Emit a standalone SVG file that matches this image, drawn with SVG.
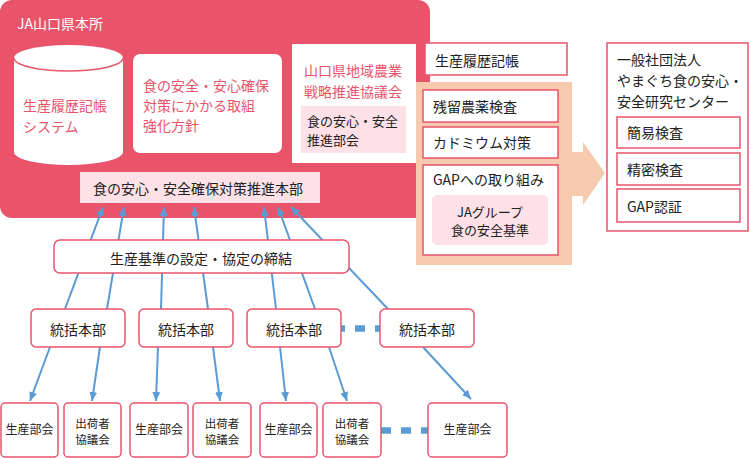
<svg xmlns="http://www.w3.org/2000/svg" width="750" height="458" viewBox="0 0 750 458">
<defs>
<style>
text{font-family:"Noto Sans CJK JP","Noto Sans",sans-serif;font-size:14px;fill:#222}
.w{fill:#fff}
.r{fill:#e9546b}
.s12{font-size:12px}
.s11{font-size:11.5px}
.s13{font-size:13px}
.c{text-anchor:middle}
.box{fill:#fff;stroke:#e9546b;stroke-width:1.5}
.pink{fill:#fde1e6}
.ln{stroke:#5b9bd5;stroke-width:2;fill:none}
.dash{stroke:#5b9bd5;stroke-width:6.5;stroke-dasharray:10 10;fill:none}
</style>
<marker id="ah" markerUnits="userSpaceOnUse" markerWidth="10" markerHeight="10" refX="9" refY="4" orient="auto">
<path d="M0,0 L9,4 L0,8 Z" fill="#5b9bd5"/>
</marker>
</defs>
<rect width="750" height="458" fill="#fff"/>

<g id="ja-honsho">
<rect x="0" y="0" width="430" height="218" rx="12" fill="#e9546b"/>
<text x="17" y="29" class="w">JA山口県本所</text>
</g>

<g id="system">
<path d="M14,58 A54.5,13 0 0 1 123,58 V152 A54.5,13 0 0 1 14,152 Z" fill="#fff"/>
<path d="M14,58 A54.5,13 0 0 0 123,58" fill="none" stroke="#e9546b" stroke-width="1.5"/>
<text x="23" y="111" class="r">生産履歴記帳</text>
<text x="23" y="132" class="r">システム</text>
</g>

<g id="houshin">
<rect x="133" y="54" width="149" height="99" rx="7" fill="#fff"/>
<text x="143" y="91" class="r">食の安全・安心確保</text>
<text x="143" y="111" class="r">対策にかかる取組</text>
<text x="143" y="131" class="r">強化方針</text>
</g>

<g id="kyogikai">
<rect x="292" y="44" width="124" height="119" fill="#fff"/>
<text x="304" y="76" class="r">山口県地域農業</text>
<text x="304" y="97" class="r">戦略推進協議会</text>
<rect x="301" y="106" width="105" height="47" class="pink"/>
<text x="307" y="126" class="s13">食の安心・安全</text>
<text x="307" y="145" class="s13">推進部会</text>
</g>

<g id="honbu">
<rect x="80" y="172" width="240" height="31" class="pink"/>
<text x="93" y="194">食の安心・安全確保対策推進本部</text>
</g>

<g id="rireki">
<rect x="425" y="43" width="142" height="32" class="box"/>
<text x="435" y="66">生産履歴記帳</text>
</g>

<g id="torikumi">
<rect x="416" y="82" width="156" height="183" fill="#f7caaf"/>
<path d="M571,152 H583 V142 L605,173 L583,205 V196 H571 Z" fill="#f7caaf"/>
<rect x="423" y="90" width="135" height="32" class="box"/>
<text x="433" y="112">残留農薬検査</text>
<rect x="423" y="127" width="135" height="31" class="box"/>
<text x="433" y="148">カドミウム対策</text>
<rect x="423" y="165" width="135" height="90" class="box"/>
<text x="433" y="185">GAPへの取り組み</text>
<rect x="432" y="195" width="116" height="50" rx="5" class="pink"/>
<text x="490" y="217" class="s13 c">JAグループ</text>
<text x="490" y="235" class="s13 c">食の安全基準</text>
</g>

<g id="center">
<rect x="607" y="43" width="141" height="188" class="box"/>
<text x="617" y="65">一般社団法人</text>
<text x="617" y="86">やまぐち食の安心・</text>
<text x="617" y="107">安全研究センター</text>
<rect x="617" y="117" width="123" height="31" class="box"/>
<text x="627" y="138">簡易検査</text>
<rect x="617" y="153" width="123" height="32" class="box"/>
<text x="627" y="175">精密検査</text>
<rect x="617" y="189" width="123" height="33" class="box"/>
<text x="627" y="212">GAP認証</text>
</g>

<g id="connectors">
<line x1="65" y1="309" x2="103" y2="207" class="ln" marker-end="url(#ah)"/>
<line x1="107" y1="309" x2="124" y2="207" class="ln" marker-end="url(#ah)"/>
<line x1="161" y1="309" x2="164" y2="207" class="ln" marker-end="url(#ah)"/>
<line x1="208" y1="309" x2="194" y2="207" class="ln" marker-end="url(#ah)"/>
<line x1="276" y1="309" x2="264" y2="207" class="ln" marker-end="url(#ah)"/>
<line x1="315" y1="309" x2="278" y2="207" class="ln" marker-end="url(#ah)"/>
<line x1="388" y1="309" x2="291" y2="207" class="ln" marker-end="url(#ah)"/>
<line x1="50" y1="347" x2="30" y2="401" class="ln" marker-end="url(#ah)"/>
<line x1="100" y1="347" x2="92" y2="401" class="ln" marker-end="url(#ah)"/>
<line x1="158" y1="347" x2="156" y2="401" class="ln" marker-end="url(#ah)"/>
<line x1="213" y1="347" x2="220" y2="401" class="ln" marker-end="url(#ah)"/>
<line x1="280" y1="347" x2="286" y2="401" class="ln" marker-end="url(#ah)"/>
<line x1="329" y1="347" x2="347" y2="401" class="ln" marker-end="url(#ah)"/>
<line x1="423" y1="347" x2="471" y2="399" class="ln" marker-end="url(#ah)"/>
<line x1="335" y1="328.5" x2="385" y2="328.5" class="dash"/>
<line x1="381" y1="430.5" x2="431" y2="430.5" class="dash"/>
</g>

<g id="kijun">
<rect x="54" y="240" width="295" height="33" rx="6" class="box"/>
<text x="201" y="264" class="c">生産基準の設定・協定の締結</text>
</g>

<g id="tokatsu1"><rect x="31" y="309" width="94" height="38" rx="5" class="box"/><text x="78" y="335" class="c">統括本部</text></g>
<g id="tokatsu2"><rect x="139" y="309" width="94" height="38" rx="5" class="box"/><text x="186" y="335" class="c">統括本部</text></g>
<g id="tokatsu3"><rect x="247" y="309" width="94" height="38" rx="5" class="box"/><text x="294" y="335" class="c">統括本部</text></g>
<g id="tokatsu4"><rect x="380" y="309" width="94" height="38" rx="5" class="box"/><text x="427" y="335" class="c">統括本部</text></g>

<g id="bukai1"><rect x="1" y="403" width="57" height="54" rx="4" class="box"/><text x="29.5" y="434" class="s12 c">生産部会</text></g>
<g id="kyogi1"><rect x="64" y="403" width="57" height="54" rx="4" class="box"/><text x="92.5" y="428" class="s11 c">出荷者</text><text x="92.5" y="444" class="s11 c">協議会</text></g>
<g id="bukai2"><rect x="130" y="403" width="58" height="54" rx="4" class="box"/><text x="159" y="434" class="s12 c">生産部会</text></g>
<g id="kyogi2"><rect x="193" y="403" width="58" height="54" rx="4" class="box"/><text x="222" y="428" class="s11 c">出荷者</text><text x="222" y="444" class="s11 c">協議会</text></g>
<g id="bukai3"><rect x="260" y="403" width="57" height="54" rx="4" class="box"/><text x="288.5" y="434" class="s12 c">生産部会</text></g>
<g id="kyogi3"><rect x="323" y="403" width="58" height="54" rx="4" class="box"/><text x="352" y="428" class="s11 c">出荷者</text><text x="352" y="444" class="s11 c">協議会</text></g>
<g id="bukai4"><rect x="428" y="403" width="79" height="54" rx="4" class="box"/><text x="467.5" y="434" class="s12 c">生産部会</text></g>
</svg>
